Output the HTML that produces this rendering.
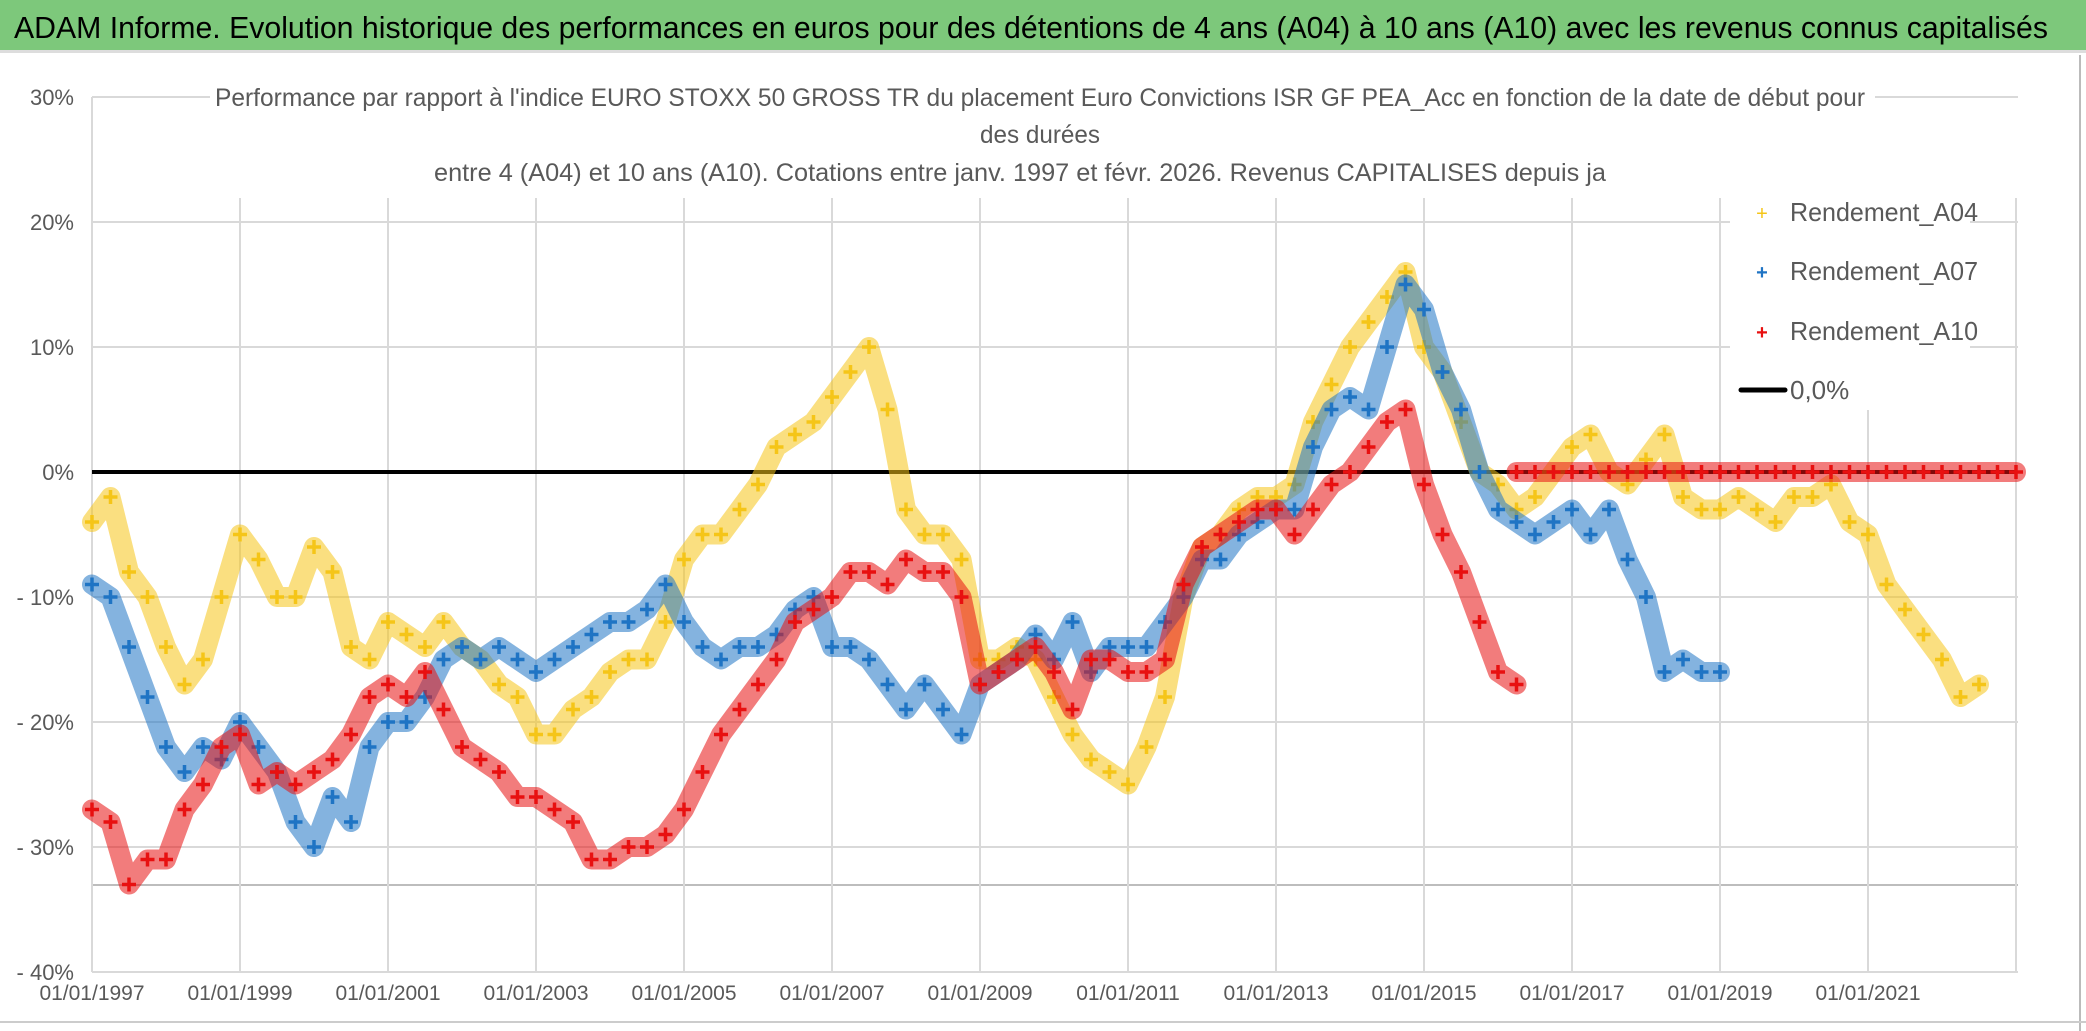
<!DOCTYPE html>
<html><head><meta charset="utf-8"><style>
html,body{margin:0;padding:0;background:#fff;}
svg{display:block;font-family:"Liberation Sans",sans-serif;}
</style></head><body>
<svg id="chart" width="2086" height="1031" viewBox="0 0 2086 1031">
<rect x="0" y="0" width="2086" height="1031" fill="#fff"/>
<rect x="0" y="0" width="2086" height="50" fill="#7dc87b"/>
<rect x="0" y="50" width="2086" height="3" fill="#ddd"/>
<text x="14" y="38" font-size="31" fill="#000" textLength="2034" lengthAdjust="spacingAndGlyphs">ADAM Informe. Evolution historique des performances en euros pour des détentions de 4 ans (A04) à 10 ans (A10) avec les revenus connus capitalisés</text>
<line x1="2080" y1="55" x2="2080" y2="1031" stroke="#bbb" stroke-width="2"/>
<line x1="0" y1="1022" x2="2086" y2="1022" stroke="#ccc" stroke-width="2"/>
<g id="grid"></g>
<g id="series"></g>
<g id="axes"></g>
<rect x="210" y="76" width="1665" height="110" fill="#fff"/>
<text x="1040" y="106" font-size="25" fill="#595959" text-anchor="middle" textLength="1650" lengthAdjust="spacingAndGlyphs">Performance par rapport à l'indice EURO STOXX 50 GROSS TR  du placement Euro Convictions ISR GF PEA_Acc en fonction de la date de début pour</text>
<text x="1040" y="143" font-size="25" fill="#595959" text-anchor="middle" textLength="120" lengthAdjust="spacingAndGlyphs">des durées</text>
<text x="1020" y="181" font-size="25" fill="#595959" text-anchor="middle" textLength="1172" lengthAdjust="spacingAndGlyphs">entre 4 (A04) et 10 ans (A10). Cotations entre janv. 1997 et févr. 2026. Revenus CAPITALISES depuis ja</text>
<g>
 <rect x="1730" y="185" width="240" height="225" fill="#fff"/>
 <g><text x="1762" y="220" font-size="20" fill="#f5c518" text-anchor="middle">+</text><text x="1790" y="221" font-size="26" fill="#595959" textLength="188" lengthAdjust="spacingAndGlyphs">Rendement_A04</text></g>
 <g><text x="1762" y="279" font-size="20" fill="#1f74c4" font-weight="bold" text-anchor="middle">+</text><text x="1790" y="280" font-size="26" fill="#595959" textLength="188" lengthAdjust="spacingAndGlyphs">Rendement_A07</text></g>
 <g><text x="1762" y="339" font-size="20" fill="#e81010" font-weight="bold" text-anchor="middle">+</text><text x="1790" y="340" font-size="26" fill="#595959" textLength="188" lengthAdjust="spacingAndGlyphs">Rendement_A10</text></g>
 <g><line x1="1741" y1="390" x2="1785" y2="390" stroke="#000" stroke-width="5" stroke-linecap="round"/><text x="1790" y="399" font-size="26" fill="#595959">0,0%</text></g>
</g>
</svg>
<script>
const yTicks=[30,20,10,0,-10,-20,-30,-40];
const yTickLabels=["30%","20%","10%","0%","- 10%","- 20%","- 30%","- 40%"];
const xTickYears=[1997,1999,2001,2003,2005,2007,2009,2011,2013,2015,2017,2019,2021];
const xTickLabels=["01/01/1997","01/01/1999","01/01/2001","01/01/2003","01/01/2005","01/01/2007","01/01/2009","01/01/2011","01/01/2013","01/01/2015","01/01/2017","01/01/2019","01/01/2021"];
const a04Start=1997.0;
const a04Values=[-4,-2,-8,-10,-14,-17,-15,-10,-5,-7,-10,-10,-6,-8,-14,-15,-12,-13,-14,-12,-14,-15,-17,-18,-21,-21,-19,-18,-16,-15,-15,-12,-7,-5,-5,-3,-1,2,3,4,6,8,10,5,-3,-5,-5,-7,-15,-15,-14,-15,-18,-21,-23,-24,-25,-22,-18,-10,-6,-5,-3,-2,-2,-1,4,7,10,12,14,16,10,8,4,0,-1,-3,-2,0,2,3,0,-1,1,3,-2,-3,-3,-2,-3,-4,-2,-2,-1,-4,-5,-9,-11,-13,-15,-18,-17];
const a07Start=1997.0;
const a07Values=[-9,-10,-14,-18,-22,-24,-22,-23,-20,-22,-24,-28,-30,-26,-28,-22,-20,-20,-18,-15,-14,-15,-14,-15,-16,-15,-14,-13,-12,-12,-11,-9,-12,-14,-15,-14,-14,-13,-11,-10,-14,-14,-15,-17,-19,-17,-19,-21,-17,-16,-15,-13,-15,-12,-16,-14,-14,-14,-12,-10,-7,-7,-5,-4,-3,-3,2,5,6,5,10,15,13,8,5,0,-3,-4,-5,-4,-3,-5,-3,-7,-10,-16,-15,-16,-16];
const a10Start=1997.0;
const a10Values=[-27,-28,-33,-31,-31,-27,-25,-22,-21,-25,-24,-25,-24,-23,-21,-18,-17,-18,-16,-19,-22,-23,-24,-26,-26,-27,-28,-31,-31,-30,-30,-29,-27,-24,-21,-19,-17,-15,-12,-11,-10,-8,-8,-9,-7,-8,-8,-10,-17,-16,-15,-14,-16,-19,-15,-15,-16,-16,-15,-9,-6,-5,-4,-3,-3,-5,-3,-1,0,2,4,5,-1,-5,-8,-12,-16,-17];
const a10ZeroStart=2016.25;
const a10ZeroValues=[0,0,0,0,0,0,0,0,0,0,0,0,0,0,0,0,0,0,0,0,0,0,0,0,0,0,0,0];
const stepYears=0.25;
const zeroLineRange=[1997,2023];

const NS="http://www.w3.org/2000/svg";
const X0=92, PX_PER_YEAR=74, Y0=472, PX_PER_PCT=12.5;
function xScale(yr){return X0+(yr-1997)*PX_PER_YEAR;}
function yScale(p){return Y0-p*PX_PER_PCT;}
function mk(tag,attrs,parent){const e=document.createElementNS(NS,tag);for(const k in attrs)e.setAttribute(k,attrs[k]);parent.appendChild(e);return e;}
const grid=document.getElementById('grid'),axes=document.getElementById('axes'),series=document.getElementById('series');

yTicks.forEach((t,i)=>{
  const l=mk('line',{x1:X0,x2:2018,y1:yScale(t),y2:yScale(t),stroke:'#d9d9d9','stroke-width':2},grid);
  
  
  const tx=mk('text',{x:74,y:yScale(t)+8,'font-size':22,fill:'#595959','text-anchor':'end'},axes);
  tx.textContent=yTickLabels[i];
  
  
});
const extra=mk('line',{x1:X0,x2:2018,y1:885,y2:885,stroke:'#bdbdbd','stroke-width':2},grid);


const ya=mk('line',{x1:X0,x2:X0,y1:yScale(30),y2:yScale(-40),stroke:'#d9d9d9','stroke-width':2},grid);


xTickYears.forEach((yr,i)=>{
  if(i>0){const l=mk('line',{x1:xScale(yr),x2:xScale(yr),y1:198,y2:yScale(-40),stroke:'#d9d9d9','stroke-width':2},grid);
  
  }
  const tx=mk('text',{x:xScale(yr),y:1000,'font-size':21,fill:'#595959','text-anchor':'middle'},axes);
  tx.textContent=xTickLabels[i];
  
  
});
const g23=mk('line',{x1:xScale(2023),x2:xScale(2023),y1:198,y2:yScale(-40),stroke:'#d9d9d9','stroke-width':2},grid);



function drawSeries(start,vals,color,name){
  const g=mk('g',{},series);
  
  
  const pts=vals.map((v,i)=>xScale(start+i*stepYears)+','+yScale(v)).join(' ');
  const pl=mk('polyline',{points:pts,fill:'none',stroke:color,'stroke-width':20,'stroke-opacity':0.55,'stroke-linejoin':'round','stroke-linecap':'round'},g);
  
  
  vals.forEach((v,i)=>{
    const x=xScale(start+i*stepYears),y=yScale(v);
    const p=mk('path',{d:`M${x-7},${y}H${x+7}M${x},${y-7}V${y+7}`,stroke:color,'stroke-width':3.5},g);
    
    
  });
}
const zl=mk('line',{x1:xScale(zeroLineRange[0]),x2:xScale(zeroLineRange[1]),y1:yScale(0),y2:yScale(0),stroke:'#000','stroke-width':4},series);


drawSeries(a04Start,a04Values,'#f5c518','series-a04');
drawSeries(a07Start,a07Values,'#1f74c4','series-a07');
drawSeries(a10Start,a10Values,'#e81010','series-a10');
drawSeries(a10ZeroStart,a10ZeroValues,'#e81010','series-a10-zero-tail');
</script>
</body></html>
